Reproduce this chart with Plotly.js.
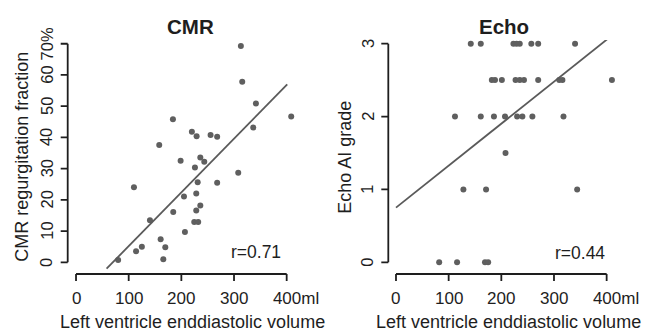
<!DOCTYPE html>
<html>
<head>
<meta charset="utf-8">
<script src="https://cdn.plot.ly/plotly-3.0.1.min.js"></script>
<style>html,body{margin:0;padding:0;background:#fff}#chart{width:646px;height:333px}</style>
</head>
<body>
<div id="chart"></div>
<script>
// CMR panel data (LV end-diastolic volume in ml, regurgitation fraction in %)
const cmrVolume = [313, 315.6, 341.6, 408.6, 336.5, 184, 220, 229, 255.5, 268, 158, 198.6, 236, 243.5, 225.8, 308, 231, 268, 110, 228.3, 205, 236, 228.3, 184.6, 140.4, 224.5, 232, 206.8, 160.7, 125, 114, 169.5, 165.7, 80];
const cmrFraction = [69.3, 57.8, 50.9, 46.7, 43.2, 45.8, 41.8, 40.4, 40.8, 40.2, 37.6, 32.5, 33.6, 32.2, 30.4, 28.7, 25.6, 25.5, 24, 22, 21.1, 18.2, 16.6, 16.1, 13.5, 12.9, 12.9, 9.7, 7.4, 5, 3.5, 4.8, 1, 0.7];
const cmrFitX = [58, 401];
const cmrFitY = [-2.05, 57.0];
const cmrR = "r=0.71";

// Echo panel data (LV end-diastolic volume in ml, AI grade)
const echoVolume = [142, 161, 223, 229, 235, 257, 270, 340,
  182, 188, 201, 227, 235, 243, 270, 310, 316, 410,
  112, 161, 186, 207, 230, 240, 259, 318,
  208,
  128, 171, 344,
  82, 116, 169, 175];
const echoGrade = [3, 3, 3, 3, 3, 3, 3, 3,
  2.5, 2.5, 2.5, 2.5, 2.5, 2.5, 2.5, 2.5, 2.5, 2.5,
  2, 2, 2, 2, 2, 2, 2, 2,
  1.5,
  1, 1, 1,
  0, 0, 0, 0];
const echoFitX = [0, 401];
const echoFitY = [0.75, 3.06];
const echoR = "r=0.44";

const xTickVals = [0, 100, 200, 300, 400];
const xTickText = ["0", "100", "200", "300", "\u2007\u2007400ml"];
const cmrTickVals = [0, 10, 20, 30, 40, 50, 60, 70];
const cmrTickText = ["0", "10", "20", "30", "40", "50", "60", "70%"];
const echoTickVals = [0, 1, 2, 3];
const echoTickText = ["0", "1", "2", "3"];

const xTitle = "Left ventricle enddiastolic volume";
const cmrYTitle = "CMR regurgitation fraction";
const echoYTitle = "Echo AI grade";

const W = 646, H = 333;
const px = v => v / W;
const py = v => 1 - v / H;
const FONT = "Liberation Sans, Arial, sans-serif";
const DOT = "#5f5f5f";
const INK = "#1e1e1e";
const TICKLEN = 7;

// panel geometry (pixels): detached R-style axes
const axisRow = 274, plotTop = 40, PAD = 18;
const panels = [
  {xa: "x", ya: "y", axisCol: 67.7, right: 317.7, xRange: [-15.8, 458.9], yRange: [-3.75, 71.2], yVals: cmrTickVals, yText: cmrTickText},
  {xa: "x2", ya: "y2", axisCol: 388.3, right: 629.3, xRange: [-14.6, 443], yRange: [-0.16, 3.05], yVals: echoTickVals, yText: echoTickText}
];
panels.forEach(p => {
  p.pxPerX = (p.right - p.axisCol) / (p.xRange[1] - p.xRange[0]);
  p.pxPerY = (axisRow - plotTop) / (p.yRange[1] - p.yRange[0]);
});

function xAxis(p) {
  return {domain: [px(p.axisCol - PAD), px(p.right)], range: [p.xRange[0] - PAD / p.pxPerX, p.xRange[1]], anchor: p.ya,
    showgrid: false, zeroline: false, showline: false, showticklabels: false, ticks: ""};
}
function yAxis(p) {
  return {domain: [py(axisRow + PAD), py(plotTop)], range: [p.yRange[0] - PAD / p.pxPerY, p.yRange[1]], anchor: p.xa,
    showgrid: false, zeroline: false, showline: false, showticklabels: false, ticks: ""};
}

// axis lines and tick marks, built from the tick arrays, drawn in each panel's own scale
const frameLine = {color: INK, width: 1.8};
function seg(p, xs, ys) {
  return {x: xs, y: ys, type: "scatter", mode: "lines", line: frameLine, xaxis: p.xa, yaxis: p.ya, hoverinfo: "skip"};
}
const traces = [];
panels.forEach(p => {
  const x0 = p.xRange[0], y0 = p.yRange[0];
  const dx = TICKLEN / p.pxPerX, dy = TICKLEN / p.pxPerY;
  traces.push(seg(p, [x0, x0], [p.yVals[0], p.yVals[p.yVals.length - 1]]));
  p.yVals.forEach(v => traces.push(seg(p, [x0, x0 - dx], [v, v])));
  traces.push(seg(p, [xTickVals[0], xTickVals[xTickVals.length - 1]], [y0, y0]));
  xTickVals.forEach(v => traces.push(seg(p, [v, v], [y0, y0 - dy])));
});

const markerStyle = {size: 6, color: DOT};
const fitLine = {color: "#5a5a5a", width: 1.8};
traces.push(
  {x: cmrVolume, y: cmrFraction, type: "scatter", mode: "markers", marker: markerStyle, xaxis: "x", yaxis: "y"},
  {x: cmrFitX, y: cmrFitY, type: "scatter", mode: "lines", line: fitLine, xaxis: "x", yaxis: "y"},
  {x: echoVolume, y: echoGrade, type: "scatter", mode: "markers", marker: markerStyle, xaxis: "x2", yaxis: "y2"},
  {x: echoFitX, y: echoFitY, type: "scatter", mode: "lines", line: fitLine, xaxis: "x2", yaxis: "y2"}
);

// tick labels as annotations tied to the data axes
const annotations = [];
panels.forEach(p => {
  xTickVals.forEach((v, i) => annotations.push({text: xTickText[i], xref: p.xa, yref: "paper", x: v, y: py(298.5),
    xanchor: "center", yanchor: "middle", showarrow: false, font: {family: FONT, size: 17, color: INK}}));
  p.yVals.forEach((v, i) => annotations.push({text: p.yText[i], xref: "paper", yref: p.ya, x: px(p.axisCol - 21), y: v,
    xanchor: "center", yanchor: "middle", textangle: -90, showarrow: false, font: {family: FONT, size: 16.5, color: INK}}));
});
annotations.push(
  {text: "<b>CMR</b>", xref: "paper", yref: "paper", x: px(190), y: py(26), xanchor: "center", yanchor: "middle", showarrow: false, font: {family: FONT, size: 20.5, color: INK}},
  {text: "<b>Echo</b>", xref: "paper", yref: "paper", x: px(504), y: py(26), xanchor: "center", yanchor: "middle", showarrow: false, font: {family: FONT, size: 20.5, color: INK}},
  {text: xTitle, xref: "paper", yref: "paper", x: px(192.7), y: py(321.5), xanchor: "center", yanchor: "middle", showarrow: false, font: {family: FONT, size: 18, color: INK}},
  {text: xTitle, xref: "paper", yref: "paper", x: px(508.8), y: py(321.5), xanchor: "center", yanchor: "middle", showarrow: false, font: {family: FONT, size: 18, color: INK}},
  {text: cmrYTitle, xref: "paper", yref: "paper", x: px(21.7), y: py(157), xanchor: "center", yanchor: "middle", textangle: -90, showarrow: false, font: {family: FONT, size: 18, color: INK}},
  {text: echoYTitle, xref: "paper", yref: "paper", x: px(345), y: py(156.7), xanchor: "center", yanchor: "middle", textangle: -90, showarrow: false, font: {family: FONT, size: 18, color: INK}},
  {text: cmrR, xref: "paper", yref: "paper", x: px(283), y: py(252), xanchor: "right", yanchor: "middle", showarrow: false, font: {family: FONT, size: 17.5, color: INK}},
  {text: echoR, xref: "paper", yref: "paper", x: px(607), y: py(253), xanchor: "right", yanchor: "middle", showarrow: false, font: {family: FONT, size: 17.5, color: INK}}
);

const layout = {
  width: W, height: H,
  margin: {l: 0, r: 0, t: 0, b: 0, autoexpand: false},
  paper_bgcolor: "#ffffff", plot_bgcolor: "#ffffff",
  showlegend: false,
  xaxis: xAxis(panels[0]),
  yaxis: yAxis(panels[0]),
  xaxis2: xAxis(panels[1]),
  yaxis2: yAxis(panels[1]),
  annotations
};

Plotly.newPlot("chart", traces, layout, {displayModeBar: false, staticPlot: true});
</script>
</body>
</html>
